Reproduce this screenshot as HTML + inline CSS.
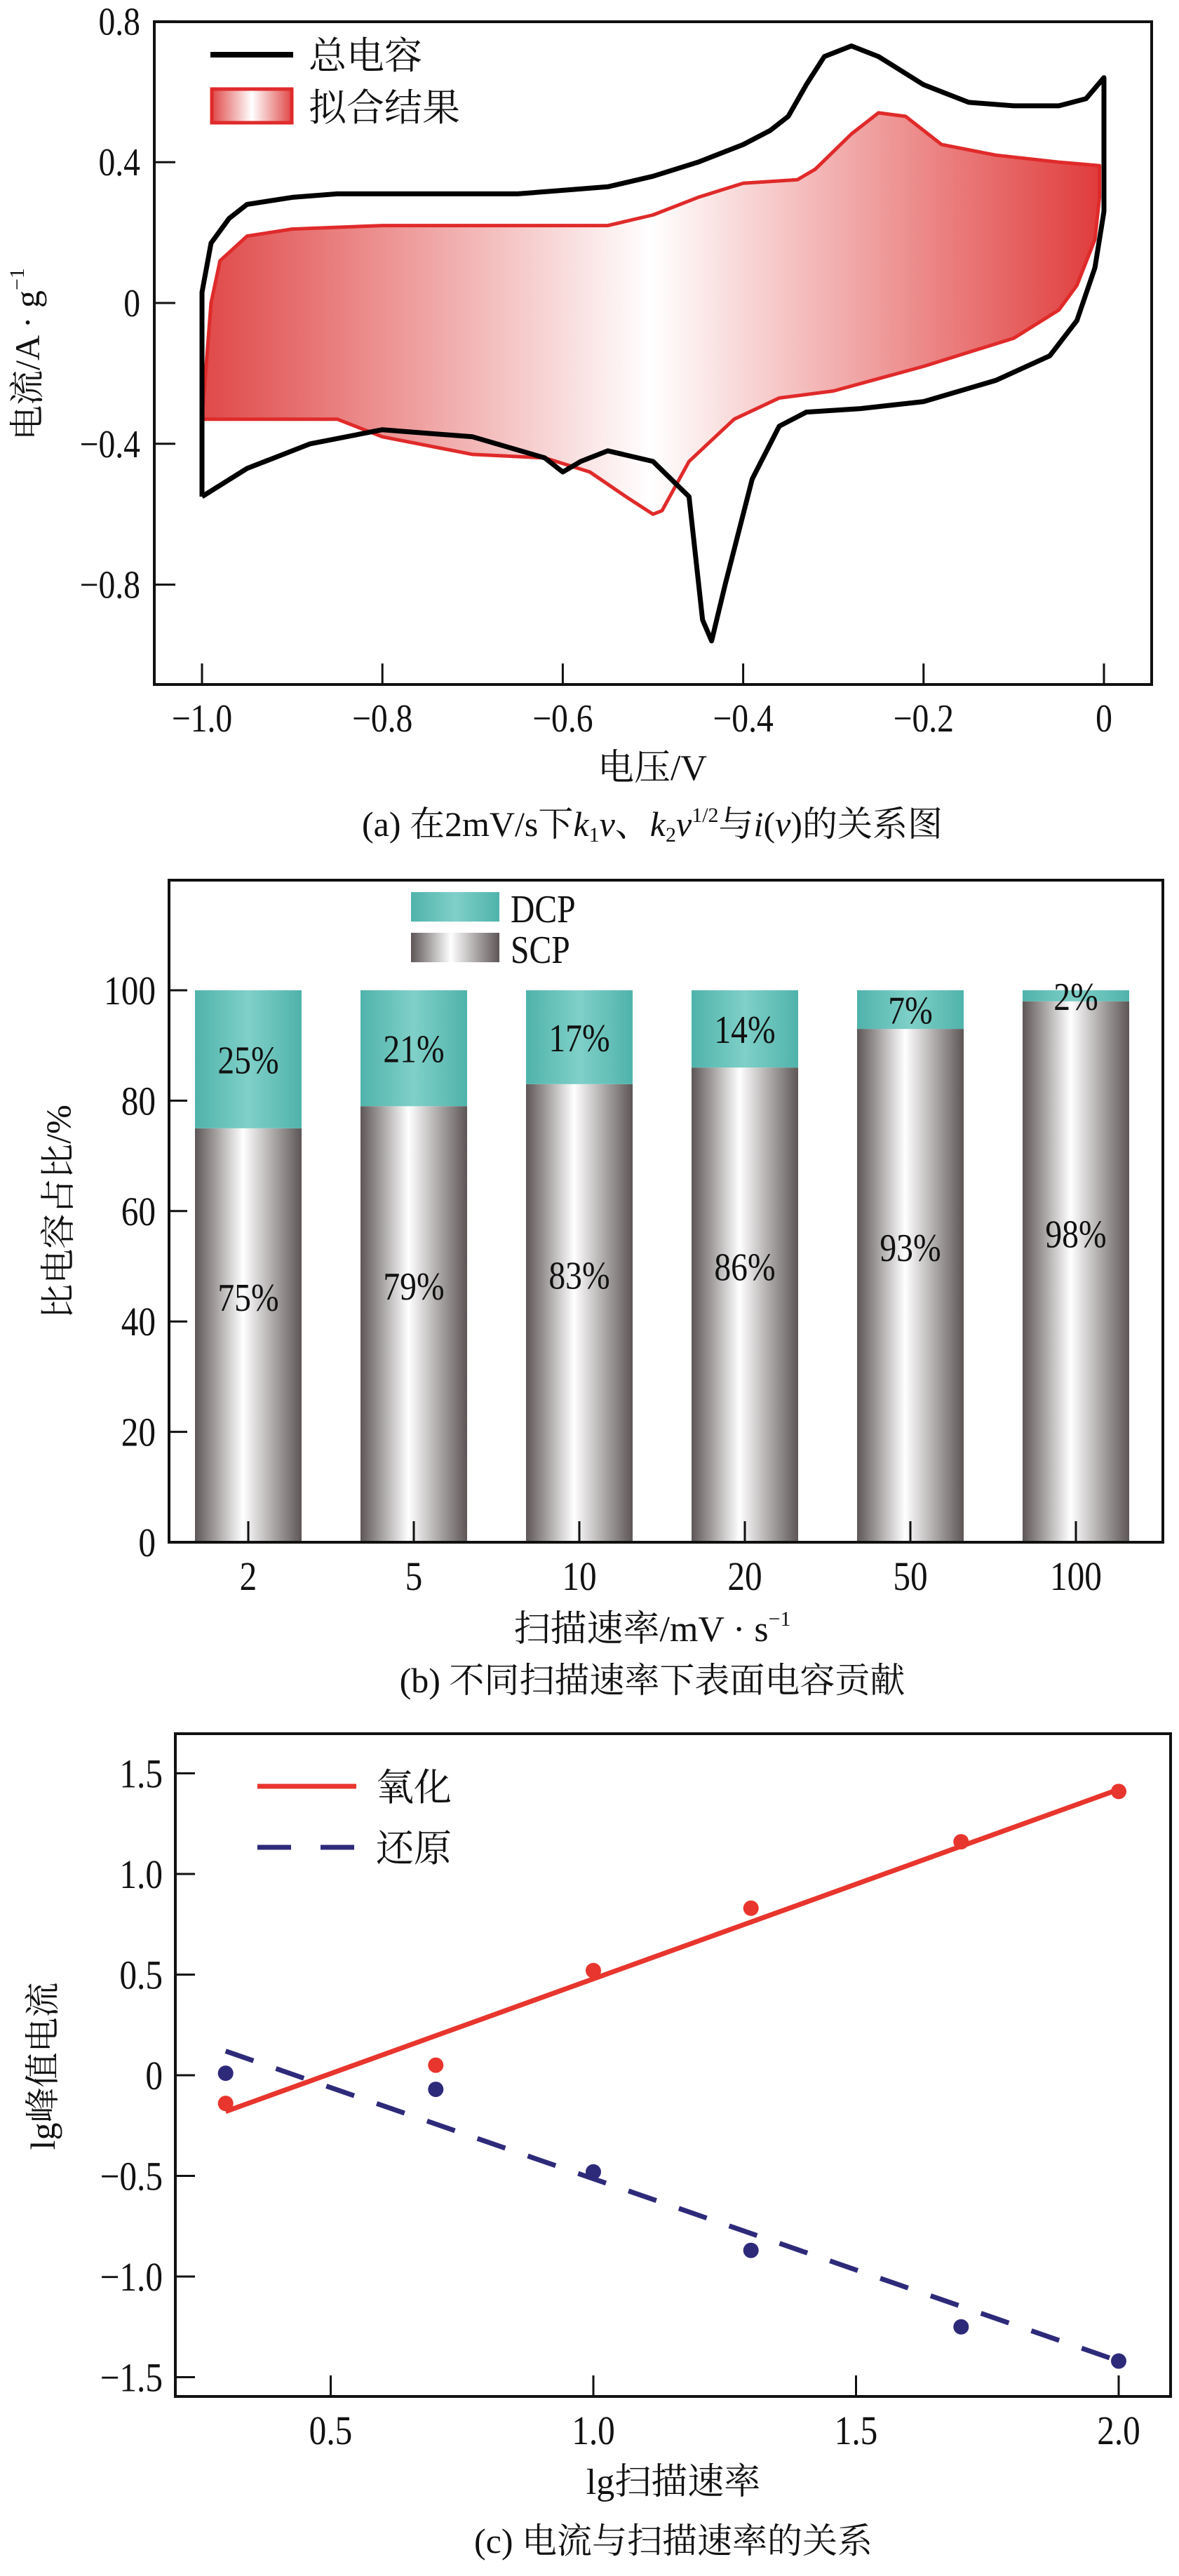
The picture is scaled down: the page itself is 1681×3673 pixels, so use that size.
<!DOCTYPE html>
<html><head><meta charset="utf-8">
<style>
html,body{margin:0;padding:0;background:#fff;}
svg{display:block;}
text{font-family:"Liberation Serif","Noto Serif CJK SC","Noto Sans CJK SC",serif;fill:#111;}
</style></head>
<body>
<svg id="root" width="1681" height="3673" viewBox="0 0 1681 3673" xmlns="http://www.w3.org/2000/svg">
<defs>
<linearGradient id="fitGrad" x1="0" x2="1" y1="0" y2="0">
<stop offset="0" stop-color="#e04848"/><stop offset="0.5" stop-color="#ffffff"/><stop offset="1" stop-color="#e03c3c"/>
</linearGradient>
<linearGradient id="scpGrad" x1="0" x2="1" y1="0" y2="0">
<stop offset="0" stop-color="#5e5656"/><stop offset="0.45" stop-color="#ffffff"/><stop offset="1" stop-color="#5e5656"/>
</linearGradient>
<linearGradient id="dcpGrad" x1="0" x2="1" y1="0" y2="0">
<stop offset="0" stop-color="#4fb3ab"/><stop offset="0.5" stop-color="#7fd0c8"/><stop offset="1" stop-color="#4fb3ab"/>
</linearGradient>
<linearGradient id="legFit" x1="0" x2="1" y1="0" y2="0">
<stop offset="0" stop-color="#e04848"/><stop offset="0.5" stop-color="#fff"/><stop offset="1" stop-color="#e04848"/>
</linearGradient>
</defs>
<g id="pa"></g>
<g id="pb"></g>
<g id="pc"></g>
</svg>
<script>
// ---------- Panel A data ----------
const blackV = [-1.0,-1.0,-0.99,-0.97,-0.95,-0.9,-0.85,-0.75,-0.65,-0.6,-0.55,-0.5,-0.45,-0.4,-0.37,-0.35,-0.33,-0.31,-0.28,-0.25,-0.2,-0.15,-0.1,-0.05,-0.02,0.0,
  0.0,-0.01,-0.03,-0.06,-0.12,-0.2,-0.27,-0.33,-0.36,-0.39,-0.42,-0.435,-0.445,-0.46,-0.5,-0.55,-0.58,-0.6,-0.62,-0.7,-0.8,-0.88,-0.95,-1.0];
const blackI = [-0.55,0.03,0.17,0.24,0.28,0.30,0.31,0.31,0.31,0.32,0.33,0.36,0.40,0.45,0.49,0.53,0.62,0.70,0.73,0.70,0.62,0.57,0.56,0.56,0.58,0.64,
  0.26,0.10,-0.05,-0.15,-0.22,-0.28,-0.30,-0.31,-0.35,-0.50,-0.80,-0.96,-0.90,-0.55,-0.45,-0.42,-0.45,-0.48,-0.44,-0.38,-0.36,-0.40,-0.47,-0.55];
const fitV = [-1.0,-0.99,-0.98,-0.95,-0.9,-0.8,-0.7,-0.6,-0.55,-0.5,-0.45,-0.4,-0.34,-0.32,-0.28,-0.25,-0.22,-0.18,-0.12,-0.05,-0.005,
  -0.005,-0.01,-0.03,-0.05,-0.1,-0.2,-0.3,-0.36,-0.41,-0.46,-0.49,-0.5,-0.53,-0.57,-0.62,-0.7,-0.8,-0.85,-1.0];
const fitI = [-0.33,0.0,0.12,0.19,0.21,0.22,0.22,0.22,0.22,0.25,0.30,0.34,0.35,0.38,0.48,0.54,0.53,0.45,0.42,0.40,0.39,
  0.30,0.18,0.05,-0.02,-0.1,-0.18,-0.25,-0.27,-0.33,-0.45,-0.59,-0.60,-0.55,-0.48,-0.44,-0.43,-0.38,-0.33,-0.33];
const aXTicks = [-1.0,-0.8,-0.6,-0.4,-0.2,0];
const aXLabels = ["−1.0","−0.8","−0.6","−0.4","−0.2","0"];
const aYTicks = [0.8,0.4,0,-0.4,-0.8];
const aYLabels = ["0.8","0.4","0","−0.4","−0.8"];
// ---------- Panel B data ----------
const bCats = ["2","5","10","20","50","100"];
const bSCP = [75,79,83,86,93,98];
const bDCP = [25,21,17,14,7,2];
const bYTicks = [0,20,40,60,80,100];
// ---------- Panel C data ----------
const cX = [0.3,0.7,1.0,1.3,1.7,2.0];
const cOx = [-0.14,0.05,0.52,0.83,1.16,1.41];
const cRed = [0.01,-0.07,-0.48,-0.87,-1.25,-1.42];
const cOxFit = [[0.3,-0.18],[2.0,1.42]];
const cRedFit = [[0.3,0.12],[2.0,-1.42]];
const cXTicks = [0.5,1.0,1.5,2.0];
const cYTicks = [1.5,1.0,0.5,0,-0.5,-1.0,-1.5];
const cYLabels = ["1.5","1.0","0.5","0","−0.5","−1.0","−1.5"];

const NS="http://www.w3.org/2000/svg";
function mk(parent,tag,attrs,txt){const e=document.createElementNS(NS,tag);for(const k in attrs)e.setAttribute(k,attrs[k]);if(txt!==undefined)e.textContent=txt;parent.appendChild(e);return e;}

// ================= PANEL A =================
(function(){
const g=document.getElementById('pa');
const xa=v=>288+(v+1)*1286, ya=v=>432-v*502;
const L=220,R=1642,T=31,B=976;
const fp=fitV.map((v,i)=>xa(v).toFixed(1)+','+ya(fitI[i]).toFixed(1)).join(' ');
let e=mk(g,'polygon',{points:fp,fill:'url(#fitGrad)',stroke:'#e02a2a','stroke-width':5,'stroke-linejoin':'round'});


const bp=blackV.map((v,i)=>xa(v).toFixed(1)+','+ya(blackI[i]).toFixed(1)).join(' ');
e=mk(g,'polyline',{points:bp,fill:'none',stroke:'#000','stroke-width':7,'stroke-linejoin':'round'});


e=mk(g,'rect',{x:L,y:T,width:R-L,height:B-T,fill:'none',stroke:'#111','stroke-width':4});


aXTicks.forEach((t,i)=>{
 mk(g,'line',{x1:xa(t),x2:xa(t),y1:B,y2:B-30,stroke:'#111','stroke-width':3});
 const tx=mk(g,'text',{x:xa(t),y:1043,'font-size':56,'text-anchor':'middle',transform:`translate(${xa(t)},0) scale(0.85,1) translate(${-xa(t)},0)`},aXLabels[i]);
 
 
});
aYTicks.forEach((t,i)=>{
 mk(g,'line',{x1:L,x2:L+30,y1:ya(t),y2:ya(t),stroke:'#111','stroke-width':3});
 const tx=mk(g,'text',{x:200,y:ya(t)+19,'font-size':56,'text-anchor':'end',transform:`translate(200,0) scale(0.85,1) translate(-200,0)`},aYLabels[i]);
 
 
});
})();
</script>
<script>
// static parts of panel A
(function(){
const g=document.getElementById('pa');
g.insertAdjacentHTML('beforeend',`
<line x1="300" y1="78" x2="418" y2="78" stroke="#000" stroke-width="8"/>
<text x="440" y="98" font-size="54">总电容</text>
<rect x="302" y="127" width="114" height="48" fill="url(#legFit)" stroke="#e02a2a" stroke-width="5"/>
<text x="440" y="172" font-size="54">拟合结果</text>
<text x="0" y="0" font-size="50" text-anchor="middle" transform="translate(56,505) rotate(-90)">电流/A · g<tspan font-size="30" dy="-22">−1</tspan></text>
<text x="930" y="1112" font-size="52" text-anchor="middle">电压/V</text>
<text x="930" y="1192" font-size="50" text-anchor="middle">(a) 在2mV/s下<tspan font-style="italic">k</tspan><tspan font-size="30" dy="8">1</tspan><tspan dy="-8" font-style="italic">v</tspan>、<tspan font-style="italic">k</tspan><tspan font-size="30" dy="8">2</tspan><tspan dy="-8" font-style="italic">v</tspan><tspan font-size="30" dy="-20">1/2</tspan><tspan dy="20">与</tspan><tspan font-style="italic">i</tspan>(<tspan font-style="italic">v</tspan>)的关系图</text>
`);
})();

// ================= PANEL B =================
(function(){
const g=document.getElementById('pb');
const L=241,R=1658,T=1255,B=2199;
const yb=v=>B-v*7.87;
const xb=i=>354+i*236;
const bw=152;
bCats.forEach((c,i)=>{
 const x=xb(i)-bw/2;
 let r=mk(g,'rect',{x:x,y:yb(bSCP[i]),width:bw,height:yb(0)-yb(bSCP[i]),fill:'url(#scpGrad)'});
 
 
 r=mk(g,'rect',{x:x,y:yb(bSCP[i]+bDCP[i]),width:bw,height:yb(bSCP[i])-yb(bSCP[i]+bDCP[i]),fill:'url(#dcpGrad)'});
 
 
 let t=mk(g,'text',{x:xb(i),y:yb(bSCP[i]+bDCP[i]/2)+20,'font-size':56,'text-anchor':'middle',transform:`translate(${xb(i)},0) scale(0.85,1) translate(${-xb(i)},0)`},bDCP[i]+'%');
 
 
 t=mk(g,'text',{x:xb(i),y:yb(bSCP[i]*0.5+7)+20,'font-size':56,'text-anchor':'middle',transform:`translate(${xb(i)},0) scale(0.85,1) translate(${-xb(i)},0)`},bSCP[i]+'%');
 
 
 mk(g,'line',{x1:xb(i),x2:xb(i),y1:B,y2:B-30,stroke:'#111','stroke-width':3});
 t=mk(g,'text',{x:xb(i),y:2267,'font-size':58,'text-anchor':'middle',transform:`translate(${xb(i)},0) scale(0.85,1) translate(${-xb(i)},0)`},c);
 
 
});
bYTicks.forEach(v=>{
 mk(g,'line',{x1:L,x2:L+26,y1:yb(v),y2:yb(v),stroke:'#111','stroke-width':3});
 const t=mk(g,'text',{x:222,y:yb(v)+20,'font-size':58,'text-anchor':'end',transform:`translate(222,0) scale(0.85,1) translate(-222,0)`},String(v));
 
 
});
g.insertAdjacentHTML('beforeend',`
<rect x="${L}" y="${T}" width="${R-L}" height="${B-T}" fill="none" stroke="#111" stroke-width="4"/>
<rect x="586" y="1272" width="126" height="42" fill="url(#dcpGrad)"/>
<text x="728" y="1315" font-size="56" transform="translate(728,0) scale(0.85,1) translate(-728,0)">DCP</text>
<rect x="586" y="1330" width="126" height="42" fill="url(#scpGrad)"/>
<text x="728" y="1373" font-size="56" transform="translate(728,0) scale(0.85,1) translate(-728,0)">SCP</text>
<text x="0" y="0" font-size="50" text-anchor="middle" transform="translate(100,1728) rotate(-90)">比电容占比/%</text>
<text x="930" y="2340" font-size="52" text-anchor="middle">扫描速率/mV · s<tspan font-size="30" dy="-22">−1</tspan></text>
<text x="930" y="2413" font-size="50" text-anchor="middle">(b) 不同扫描速率下表面电容贡献</text>
`);
})();

// ================= PANEL C =================
(function(){
const g=document.getElementById('pc');
const L=250,R=1669,T=2472,B=3417;
const xc=v=>97+v*749, yc=v=>2959-v*287;
let l=mk(g,'line',{x1:xc(cOxFit[0][0]),y1:yc(cOxFit[0][1]),x2:xc(cOxFit[1][0]),y2:yc(cOxFit[1][1]),stroke:'#e8352d','stroke-width':7});


l=mk(g,'line',{x1:xc(cRedFit[0][0]),y1:yc(cRedFit[0][1]),x2:xc(cRedFit[1][0]),y2:yc(cRedFit[1][1]),stroke:'#2e2a7a','stroke-width':7,'stroke-dasharray':'42 34'});


cX.forEach((x,i)=>{
 let c=mk(g,'circle',{cx:xc(x),cy:yc(cOx[i]),r:11,fill:'#e8352d'});
 
 
 c=mk(g,'circle',{cx:xc(x),cy:yc(cRed[i]),r:11,fill:'#2e2a7a'});
 
 
});
cXTicks.forEach(v=>{
 mk(g,'line',{x1:xc(v),x2:xc(v),y1:B,y2:B-30,stroke:'#111','stroke-width':3});
 const t=mk(g,'text',{x:xc(v),y:3485,'font-size':58,'text-anchor':'middle',transform:`translate(${xc(v)},0) scale(0.85,1) translate(${-xc(v)},0)`},v.toFixed(1));
 
 
});
cYTicks.forEach((v,i)=>{
 mk(g,'line',{x1:L,x2:L+28,y1:yc(v),y2:yc(v),stroke:'#111','stroke-width':3});
 const t=mk(g,'text',{x:232,y:yc(v)+20,'font-size':58,'text-anchor':'end',transform:`translate(232,0) scale(0.85,1) translate(-232,0)`},cYLabels[i]);
 
 
});
g.insertAdjacentHTML('beforeend',`
<rect x="${L}" y="${T}" width="${R-L}" height="${B-T}" fill="none" stroke="#111" stroke-width="4"/>
<line x1="367" y1="2547" x2="508" y2="2547" stroke="#e8352d" stroke-width="7"/>
<text x="536" y="2567" font-size="54">氧化</text>
<line x1="367" y1="2634" x2="508" y2="2634" stroke="#2e2a7a" stroke-width="7" stroke-dasharray="48 42"/>
<text x="536" y="2654" font-size="54">还原</text>
<text x="0" y="0" font-size="50" text-anchor="middle" transform="translate(78,2946) rotate(-90)">lg峰值电流</text>
<text x="960" y="3556" font-size="52" text-anchor="middle">lg扫描速率</text>
<text x="960" y="3640" font-size="50" text-anchor="middle">(c) 电流与扫描速率的关系</text>
`);
})();
</script>
</body></html>
